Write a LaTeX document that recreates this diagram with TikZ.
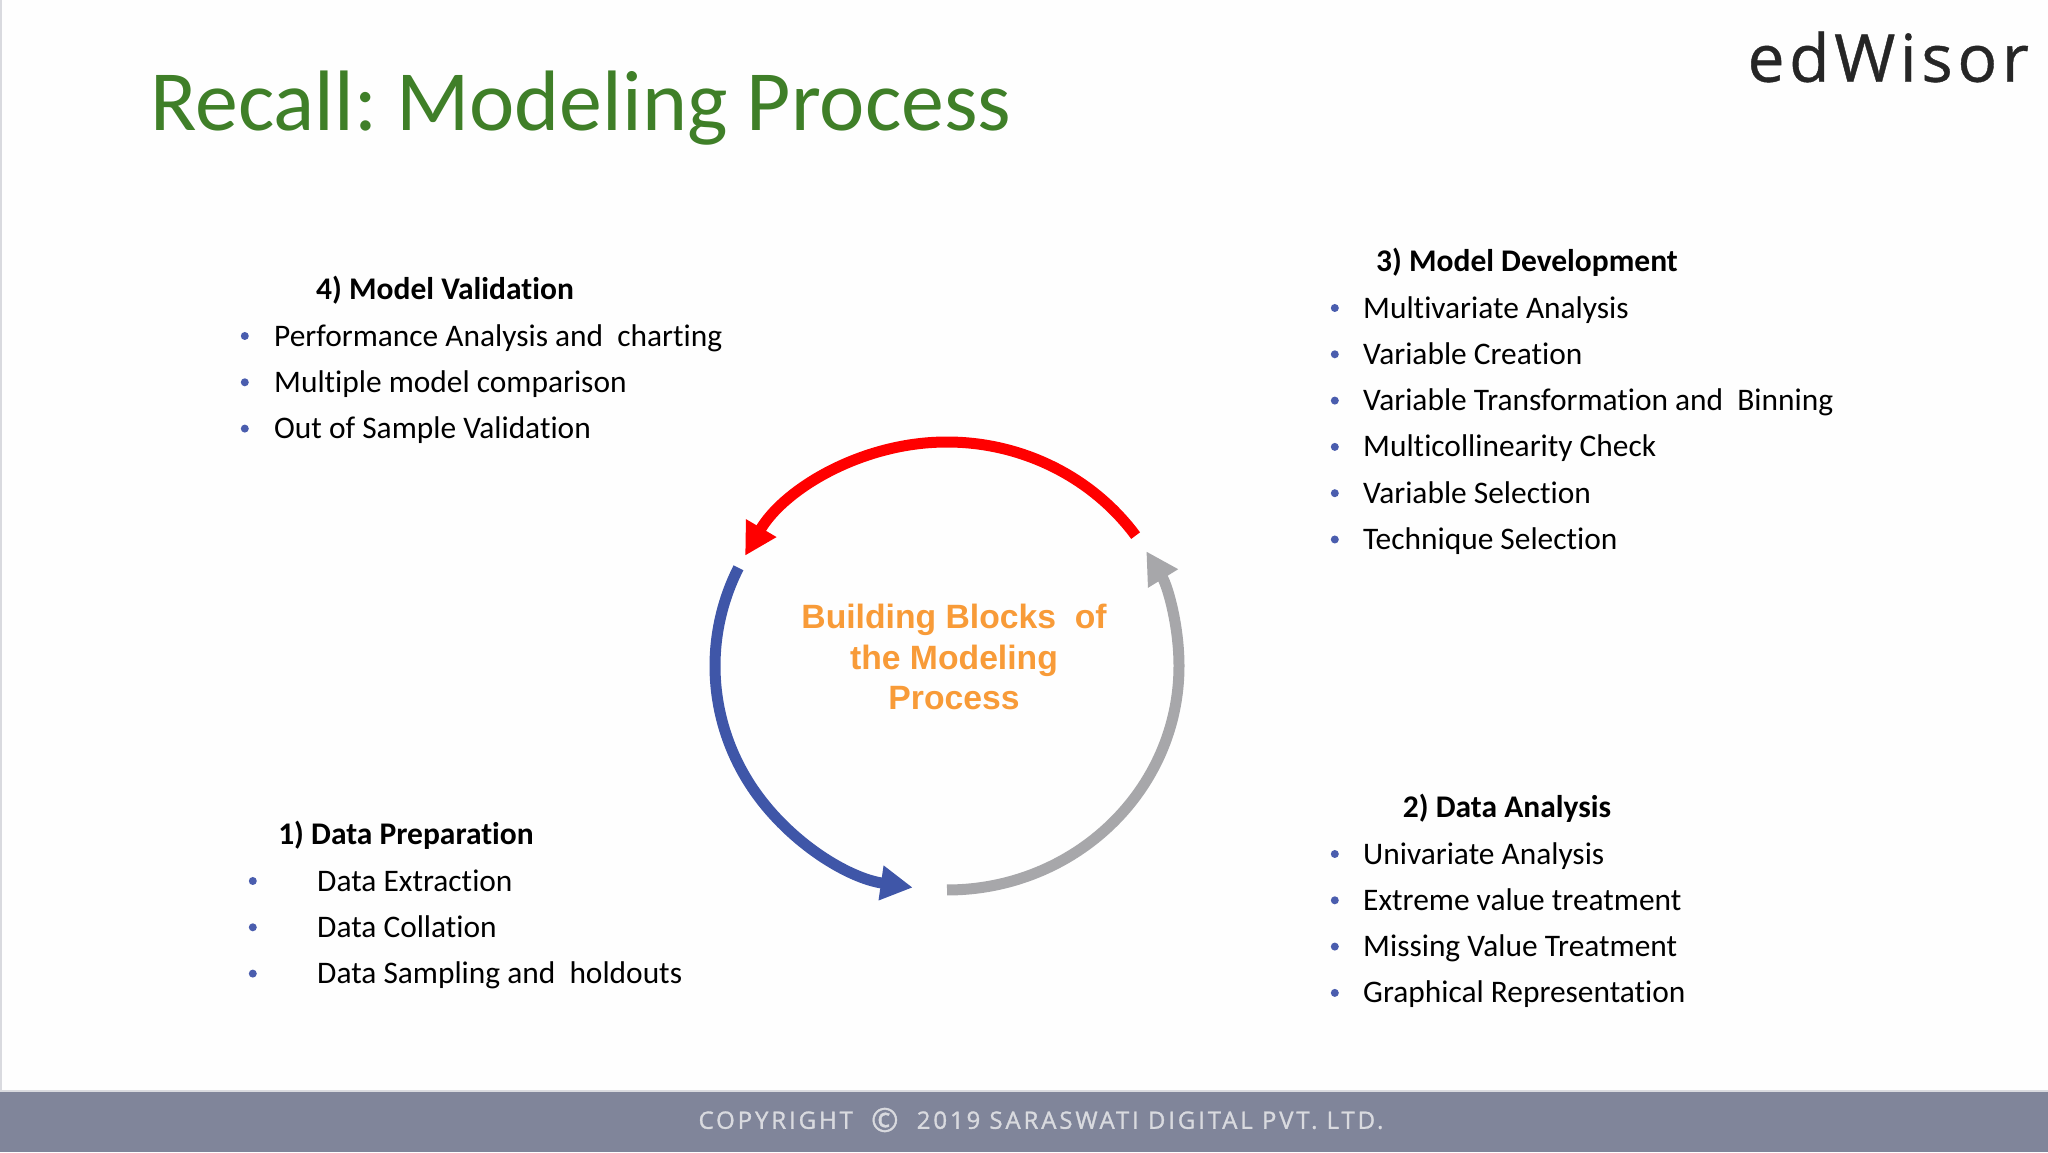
\documentclass[tikz,border=0pt]{standalone}
\usepackage{fontspec}
\setmainfont[Ligatures=NoCommon]{Carlito}
\newfontfamily\centrefont{Liberation Sans}
\newfontfamily\logofont[LetterSpace=7,FakeBold=0.6]{Open Sans}
\newfontfamily\footfont[LetterSpace=12,FakeBold=1.2]{Open Sans}
\usepackage{xcolor}
\usepackage{tikz}
\usetikzlibrary{positioning, arrows.meta, calc}
\definecolor{titlegreen}{HTML}{3F7F28}
\definecolor{bulletblue}{HTML}{4A5DAE}
\definecolor{arcblue}{HTML}{3F56A8}
\definecolor{arcgray}{HTML}{A7A7AA}
\definecolor{blockorange}{HTML}{F89B38}
\definecolor{footgray}{HTML}{80859A}
\definecolor{footline}{HTML}{D9DADF}
\definecolor{pagewhite}{HTML}{FEFEFE}

\begin{document}
\begin{tikzpicture}[
    x=1pt, y=1pt,
    headnode/.style={inner sep=0pt, font=\fontsize{31.5}{36}\selectfont\bfseries},
    itemnode/.style={inner sep=0pt, text width=640pt, align=flush left, text height=33pt, text depth=12.9pt, font=\fontsize{31.4}{36}\selectfont},
    bulletnode/.style={circle, fill=bulletblue, inner sep=0pt, minimum size=8pt},
    arcarrow/.style={line width=11pt, -{Triangle[length=32pt, width=33pt]}},
]
\useasboundingbox (0,0) rectangle (2048,1152);
\fill[pagewhite] (0,0) rectangle (2048,1152);
\fill[footline] (0,0) rectangle (2,1152);
\fill[footgray] (0,0) rectangle (2048,60);
\fill[footline] (0,60) rectangle (2048,62);

\node[anchor=west, inner sep=0pt, text=titlegreen, font=\fontsize{85.8}{100}\selectfont\frenchspacing](title) at (150,1044){Recall: Modeling Process};
\node[anchor=east, inner sep=0pt, text=black!85, font=\fontsize{66}{70}\logofont](logo) at (2029,1095){edWisor};

% 4) validation
\node[headnode](valhead) at (445,862){4) Model Validation};
\node[itemnode, anchor=west](val1) at (274,816){Performance Analysis and\ \ charting};
\node[itemnode](val2)[below = 0pt of val1]{Multiple model comparison};
\node[itemnode](val3)[below = 0pt of val2]{Out of Sample Validation};
\node[bulletnode](bval1)[left = 25pt of val1]{};
\node[bulletnode](bval2)[left = 25pt of val2]{};
\node[bulletnode](bval3)[left = 25pt of val3]{};

% 3) development
\node[headnode](devhead) at (1527,890){3) Model Development};
\node[itemnode, anchor=west](dev1) at (1363,844){Multivariate Analysis};
\node[itemnode](dev2)[below = 0pt of dev1]{Variable Creation};
\node[itemnode](dev3)[below = 0pt of dev2]{Variable Transformation and\ \ Binning};
\node[itemnode](dev4)[below = 0pt of dev3]{Multicollinearity Check};
\node[itemnode](dev5)[below = 0pt of dev4]{Variable Selection};
\node[itemnode](dev6)[below = 0pt of dev5]{Technique Selection};
\node[bulletnode](bdev1)[left = 24pt of dev1]{};
\node[bulletnode](bdev2)[left = 24pt of dev2]{};
\node[bulletnode](bdev3)[left = 24pt of dev3]{};
\node[bulletnode](bdev4)[left = 24pt of dev4]{};
\node[bulletnode](bdev5)[left = 24pt of dev5]{};
\node[bulletnode](bdev6)[left = 24pt of dev6]{};

% 2) analysis
\node[headnode](anahead) at (1507,344){2) Data Analysis};
\node[itemnode, anchor=west](ana1) at (1363,298){Univariate Analysis};
\node[itemnode](ana2)[below = 0pt of ana1]{Extreme value treatment};
\node[itemnode](ana3)[below = 0pt of ana2]{Missing Value Treatment};
\node[itemnode](ana4)[below = 0pt of ana3]{Graphical Representation};
\node[bulletnode](bana1)[left = 24pt of ana1]{};
\node[bulletnode](bana2)[left = 24pt of ana2]{};
\node[bulletnode](bana3)[left = 24pt of ana3]{};
\node[bulletnode](bana4)[left = 24pt of ana4]{};

% 1) preparation
\node[headnode](prephead) at (406,317){1) Data Preparation};
\node[itemnode, anchor=west](prep1) at (317,271){Data Extraction};
\node[itemnode](prep2)[below = 0pt of prep1]{Data Collation};
\node[itemnode](prep3)[below = 0pt of prep2]{Data Sampling and\ \ holdouts};
\node[bulletnode](bprep1)[left = 60pt of prep1]{};
\node[bulletnode](bprep2)[left = 60pt of prep2]{};
\node[bulletnode](bprep3)[left = 60pt of prep3]{};

% cycle
\coordinate (hub) at (947,486);
\coordinate (redstart) at ($(hub)+(35.6:232 and 224)$);
\coordinate (bluestart) at ($(hub)+(154:232 and 224)$);
\coordinate (graystart) at ($(hub)+(270:232 and 224)$);
\draw[arcarrow, draw=red] (redstart) arc[start angle=35.6, end angle=150.5, x radius=232, y radius=224];
\draw[arcarrow, draw=arcblue] (bluestart) arc[start angle=154, end angle=261.5, x radius=232, y radius=224];
\draw[arcarrow, draw=arcgray] (graystart) arc[start angle=270, end angle=390.8, x radius=232, y radius=224];

\node[inner sep=0pt, align=center, text=blockorange, font=\fontsize{33.7}{40.5}\selectfont\centrefont\bfseries](blocks) at (954,495){Building Blocks\ \ of\\the Modeling\\Process};

\node[inner sep=0pt, text=footline, font=\fontsize{24}{28}\footfont](copy) at (1041,32){COPYRIGHT\ \ \raisebox{-3pt}{\fontsize{33}{33}\selectfont\char"00A9}\ \ 2019 SARASWATI DIGITAL PVT. LTD.};
\end{tikzpicture}
\end{document}
